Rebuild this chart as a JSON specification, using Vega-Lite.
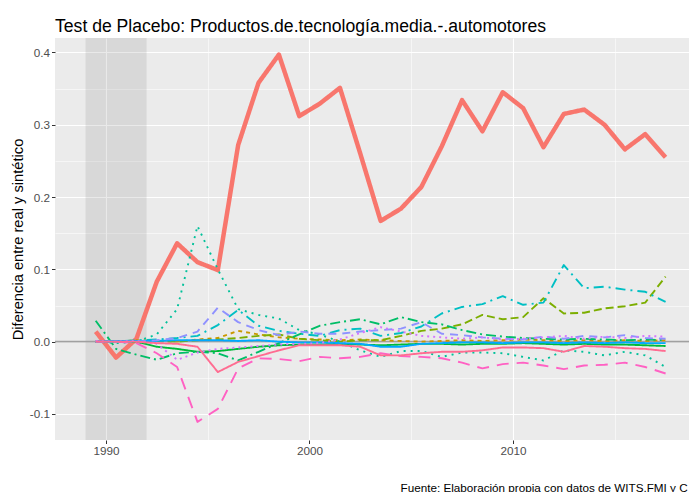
{
  "$schema": "https://vega.github.io/schema/vega-lite/v6.json",
  "width": 634,
  "height": 402,
  "autosize": "none",
  "padding": {"left": 55, "top": 38, "right": 0, "bottom": 52},
  "background": "white",
  "config": {"view": {"fill": "#EBEBEB", "stroke": null}, "font": "Liberation Sans"},
  "title": {"text": "Test de Placebo: Productos.de.tecnología.media.-.automotores", "anchor": "start", "frame": "group", "fontSize": 17.6, "fontWeight": "normal", "color": "black", "font": "Liberation Sans", "baseline": "alphabetic", "offset": 11, "dy": 23},
  "datasets": {
    "series": [
      {"t":1989.5,"auto":0.014,"p1":0,"p2":0,"p3":0,"p4":0.029,"p5":0,"p6":0,"p7":0,"p8":0,"p9":0.001,"p10":0,"p11":0},
      {"t":1990.5,"auto":-0.022,"p1":0,"p2":0,"p3":0,"p4":-0.010,"p5":-0.002,"p6":0,"p7":0.001,"p8":0,"p9":0,"p10":0,"p11":0},
      {"t":1991.5,"auto":0.004,"p1":0.002,"p2":0,"p3":0,"p4":-0.018,"p5":0,"p6":0.002,"p7":0.001,"p8":0,"p9":0.001,"p10":-0.002,"p11":0},
      {"t":1992.5,"auto":0.083,"p1":0.001,"p2":0.001,"p3":-0.007,"p4":-0.025,"p5":0.010,"p6":0.003,"p7":0.001,"p8":0.002,"p9":-0.003,"p10":-0.016,"p11":-0.002},
      {"t":1993.5,"auto":0.136,"p1":0,"p2":0,"p3":-0.010,"p4":-0.016,"p5":0.045,"p6":0.005,"p7":0.002,"p8":0.005,"p9":-0.025,"p10":-0.035,"p11":-0.003},
      {"t":1994.5,"auto":0.110,"p1":0.003,"p2":0.002,"p3":-0.014,"p4":-0.014,"p5":0.160,"p6":0.008,"p7":0.002,"p8":0.014,"p9":-0.015,"p10":-0.111,"p11":-0.007},
      {"t":1995.5,"auto":0.099,"p1":0.005,"p2":0.003,"p3":-0.013,"p4":-0.016,"p5":0.100,"p6":0.023,"p7":0.002,"p8":0.047,"p9":-0.010,"p10":-0.093,"p11":-0.042},
      {"t":1996.5,"auto":0.272,"p1":0.015,"p2":0.005,"p3":-0.010,"p4":-0.026,"p5":0.045,"p6":0.044,"p7":0.001,"p8":0.027,"p9":-0.008,"p10":-0.037,"p11":-0.028},
      {"t":1997.5,"auto":0.358,"p1":0.010,"p2":0.008,"p3":-0.007,"p4":-0.014,"p5":0.037,"p6":0.022,"p7":0.002,"p8":0.016,"p9":-0.006,"p10":-0.023,"p11":-0.020},
      {"t":1998.5,"auto":0.397,"p1":0.006,"p2":0.010,"p3":-0.005,"p4":-0.002,"p5":0.032,"p6":0.015,"p7":0,"p8":0.009,"p9":-0.004,"p10":-0.024,"p11":-0.012},
      {"t":1999.5,"auto":0.312,"p1":0.004,"p2":0.004,"p3":-0.004,"p4":0.010,"p5":0.016,"p6":0.011,"p7":-0.001,"p8":0.014,"p9":-0.003,"p10":-0.027,"p11":-0.005},
      {"t":2000.5,"auto":0.329,"p1":0.003,"p2":0.002,"p3":-0.004,"p4":0.022,"p5":0.010,"p6":0.008,"p7":-0.001,"p8":0.011,"p9":-0.002,"p10":-0.021,"p11":-0.005},
      {"t":2001.5,"auto":0.351,"p1":0.002,"p2":0,"p3":-0.003,"p4":0.027,"p5":0,"p6":0.016,"p7":-0.002,"p8":0.011,"p9":0.003,"p10":-0.023,"p11":-0.005},
      {"t":2002.5,"auto":0.260,"p1":0.003,"p2":0.002,"p3":-0.004,"p4":0.031,"p5":-0.012,"p6":0.018,"p7":-0.003,"p8":0.014,"p9":0.012,"p10":-0.021,"p11":-0.007},
      {"t":2003.5,"auto":0.167,"p1":0.002,"p2":0.002,"p3":-0.005,"p4":0.024,"p5":-0.021,"p6":0.008,"p7":-0.007,"p8":0.016,"p9":0.020,"p10":-0.016,"p11":-0.019},
      {"t":2004.5,"auto":0.184,"p1":0.001,"p2":0.008,"p3":-0.004,"p4":0.034,"p5":-0.013,"p6":0.012,"p7":-0.007,"p8":0.018,"p9":0.014,"p10":-0.020,"p11":-0.019},
      {"t":2005.5,"auto":0.214,"p1":0,"p2":0.015,"p3":-0.003,"p4":0.027,"p5":-0.013,"p6":0.021,"p7":-0.003,"p8":0.027,"p9":0.008,"p10":-0.021,"p11":-0.016},
      {"t":2006.5,"auto":0.270,"p1":0.001,"p2":0.018,"p3":-0.003,"p4":0.024,"p5":-0.021,"p6":0.039,"p7":-0.002,"p8":0.011,"p9":0.006,"p10":-0.023,"p11":-0.014},
      {"t":2007.5,"auto":0.334,"p1":0.002,"p2":0.024,"p3":-0.004,"p4":0.016,"p5":-0.015,"p6":0.048,"p7":-0.001,"p8":0.009,"p9":0.004,"p10":-0.029,"p11":-0.014},
      {"t":2008.5,"auto":0.291,"p1":0.001,"p2":0.037,"p3":-0.003,"p4":0.010,"p5":-0.015,"p6":0.052,"p7":-0.001,"p8":0.006,"p9":0.006,"p10":-0.037,"p11":-0.012},
      {"t":2009.5,"auto":0.345,"p1":0.002,"p2":0.031,"p3":-0.003,"p4":0.007,"p5":-0.016,"p6":0.063,"p7":-0.002,"p8":0.004,"p9":0.003,"p10":-0.031,"p11":-0.008},
      {"t":2010.5,"auto":0.323,"p1":0.003,"p2":0.034,"p3":-0.002,"p4":0.005,"p5":-0.021,"p6":0.051,"p7":-0.001,"p8":0.003,"p9":0.004,"p10":-0.029,"p11":-0.008},
      {"t":2011.5,"auto":0.269,"p1":0.002,"p2":0.060,"p3":-0.003,"p4":0.004,"p5":-0.026,"p6":0.054,"p7":-0.001,"p8":0.007,"p9":0.006,"p10":-0.033,"p11":-0.009},
      {"t":2012.5,"auto":0.315,"p1":0.001,"p2":0.039,"p3":-0.004,"p4":0.003,"p5":-0.012,"p6":0.106,"p7":-0.002,"p8":0.004,"p9":0.008,"p10":-0.038,"p11":-0.014},
      {"t":2013.5,"auto":0.321,"p1":0.002,"p2":0.040,"p3":-0.003,"p4":0.004,"p5":-0.014,"p6":0.074,"p7":-0.001,"p8":0.008,"p9":0.004,"p10":-0.033,"p11":-0.006},
      {"t":2014.5,"auto":0.300,"p1":0.001,"p2":0.046,"p3":-0.004,"p4":0.003,"p5":-0.019,"p6":0.076,"p7":-0.002,"p8":0.006,"p9":0.007,"p10":-0.032,"p11":-0.007},
      {"t":2015.5,"auto":0.266,"p1":0.002,"p2":0.049,"p3":-0.004,"p4":0.002,"p5":-0.014,"p6":0.072,"p7":-0.001,"p8":0.009,"p9":0.005,"p10":-0.029,"p11":-0.009},
      {"t":2016.5,"auto":0.287,"p1":0.001,"p2":0.054,"p3":-0.005,"p4":0.003,"p5":-0.019,"p6":0.069,"p7":-0.002,"p8":0.005,"p9":0.008,"p10":-0.035,"p11":-0.010},
      {"t":2017.5,"auto":0.255,"p1":0.002,"p2":0.090,"p3":-0.006,"p4":0.002,"p5":-0.035,"p6":0.055,"p7":-0.002,"p8":0.004,"p9":0.007,"p10":-0.044,"p11":-0.013}
    ]
  },
  "layer": [
    {
      "data": {"values": [{"t": 1989, "t2": 1992}]},
      "mark": {"type": "rect", "color": "#7F7F7F", "opacity": 0.17},
      "encoding": {
        "x": {"field": "t", "type": "quantitative", "scale": {"domain": [1987.5, 2018.65], "nice": false, "zero": false}},
        "x2": {"field": "t2"}
      }
    },
    {
      "data": {"values": [{"v": 0}]},
      "mark": {"type": "rule", "color": "#A0A0A0", "strokeWidth": 1.6},
      "encoding": {
        "y": {"field": "v", "type": "quantitative", "scale": {"domain": [-0.136, 0.42], "nice": false, "zero": false}}
      }
    },
    {
      "data": {"name": "series"},
      "transform": [{"fold": ["auto","p1","p2","p3","p4","p5","p6","p7","p8","p9","p10","p11"], "as": ["serie", "v"]}],
      "mark": {"type": "line", "strokeCap": "butt", "strokeJoin": "round"},
      "encoding": {
        "x": {
          "field": "t", "type": "quantitative",
          "scale": {"domain": [1987.5, 2018.65], "nice": false, "zero": false},
          "axis": {
            "title": "Fuente: Elaboración propia con datos de WITS.FMI y C",
            "titleX": 345, "titleY": 51, "titleAlign": "left", "titleBaseline": "alphabetic",
            "titleFontSize": 11.7, "titleFontWeight": "normal", "titleColor": "black", "titleFont": "Liberation Sans",
            "values": [1990, 1995, 2000, 2005, 2010, 2015],
            "format": "d",
            "labelExpr": "datum.value % 10 == 0 ? datum.label : ''",
            "labelColor": "#4D4D4D", "labelFontSize": 11.7, "labelPadding": 2, "labelFlush": false,
            "tickColor": "#333333", "tickSize": 3.5, "tickWidth": 1,
            "tickOpacity": {"condition": {"test": "datum.value % 10 == 0", "value": 1}, "value": 0},
            "domain": false, "grid": true, "gridColor": "white",
            "gridWidth": {"condition": {"test": "datum.value % 10 == 0", "value": 1.1}, "value": 0.55}
          }
        },
        "y": {
          "field": "v", "type": "quantitative",
          "scale": {"domain": [-0.136, 0.42], "nice": false, "zero": false},
          "axis": {
            "title": "Diferencia entre real y sintético",
            "titleX": -37, "titleY": 201, "titleAlign": "center", "titleBaseline": "middle", "titleAngle": -90,
            "titleFontSize": 14.7, "titleFontWeight": "normal", "titleColor": "black", "titleFont": "Liberation Sans",
            "values": [-0.1, -0.05, 0, 0.05, 0.1, 0.15, 0.2, 0.25, 0.3, 0.35, 0.4],
            "labelExpr": "abs(datum.value*10 - round(datum.value*10)) < 0.001 ? (datum.value < 0 ? '-' + format(-datum.value, '.1f') : format(datum.value, '.1f')) : ''",
            "labelColor": "#4D4D4D", "labelFontSize": 11.7, "labelPadding": 2, "labelFlush": false,
            "tickColor": "#333333", "tickSize": 3.5, "tickWidth": 1,
            "tickOpacity": {"condition": {"test": "abs(datum.value*10 - round(datum.value*10)) < 0.001", "value": 1}, "value": 0},
            "domain": false, "grid": true, "gridColor": "white",
            "gridWidth": {"condition": {"test": "abs(datum.value*10 - round(datum.value*10)) < 0.001", "value": 1.1}, "value": 0.55}
          }
        },
        "color": {
          "field": "serie", "type": "nominal", "legend": null,
          "scale": {
            "domain": ["auto","p1","p2","p3","p4","p5","p6","p7","p8","p9","p10","p11"],
            "range": ["#F8766D","#C99800","#7CAE00","#00BA38","#00BE67","#00C19A","#00BFC4","#00A9FF","#8F91FF","#D575FE","#FF61C3","#FF6C91"]
          }
        },
        "strokeDash": {
          "field": "serie", "type": "nominal", "legend": null,
          "scale": {
            "domain": ["auto","p1","p2","p3","p4","p5","p6","p7","p8","p9","p10","p11"],
            "range": [[1,0],[4,4],[8,4],[1,0],[10,4,2,4],[2,5],[2,5,10,5],[1,0],[8,6],[2,4],[12,8],[1,0]]
          }
        },
        "strokeWidth": {"condition": {"test": "datum.serie == 'auto'", "value": 4.5}, "value": 1.9}
      }
    }
  ]
}
